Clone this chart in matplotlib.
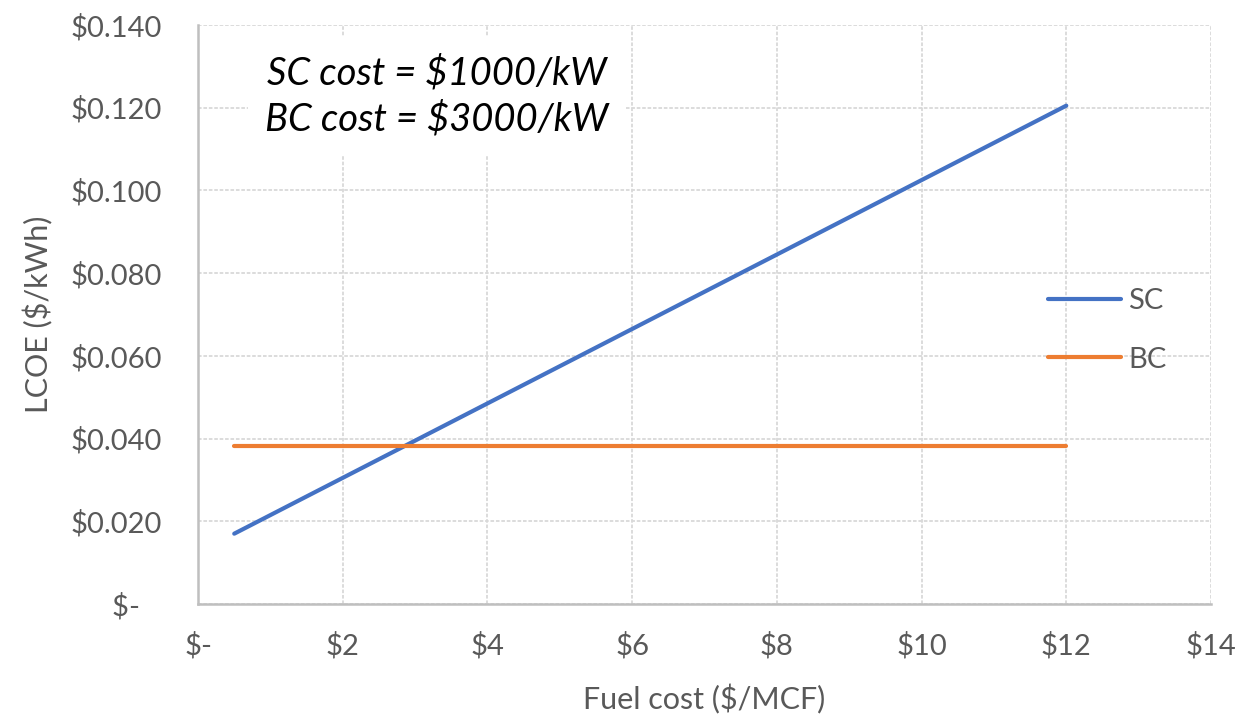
import matplotlib
matplotlib.use("Agg")
import matplotlib.pyplot as plt
from matplotlib.ticker import FuncFormatter, MultipleLocator

# LCOE vs fuel price, simple-cycle vs baseload combined-cycle
fuel_cost = [0.5, 2, 4, 6, 8, 10, 12]
sc_lcoe = [0.0170, 0.0305, 0.0485, 0.0665, 0.0845, 0.1025, 0.1205]
bc_lcoe = [0.0381, 0.0381, 0.0381, 0.0381, 0.0381, 0.0381, 0.0381]
series_names = ["SC", "BC"]
note_lines = ["SC cost = $1000/kW", "BC cost = $3000/kW"]

BLUE = "#4472C4"
ORANGE = "#ED7D31"
TEXT = "#595959"
GRID = "#D9D9D9"
AXIS = "#BFBFBF"

plt.rcParams["font.family"] = ["Lato", "DejaVu Sans"]

fig = plt.figure(figsize=(12.41, 7.21), dpi=100)
ax = fig.add_axes([0.1596, 0.1623, 0.8162, 0.8030])

ax.plot(fuel_cost, sc_lcoe, color=BLUE, lw=3.0, solid_capstyle="round", label=series_names[0], zorder=3)
ax.plot(fuel_cost, bc_lcoe, color=ORANGE, lw=3.0, solid_capstyle="round", label=series_names[1], zorder=3)

ax.set_xlim(0, 14)
ax.set_ylim(0, 0.14)
ax.xaxis.set_major_locator(MultipleLocator(2))
ax.yaxis.set_major_locator(MultipleLocator(0.02))
ax.xaxis.set_major_formatter(FuncFormatter(lambda v, p: "$-" if abs(v) < 1e-9 else f"${v:.0f}"))
ax.yaxis.set_major_formatter(FuncFormatter(lambda v, p: "$-   " if abs(v) < 1e-9 else f"${v:.3f}"))

ax.grid(True, color=GRID, lw=1.3, ls=(0, (2, 1)))
ax.set_axisbelow(True)
for side in ["top", "right"]:
    ax.spines[side].set_visible(False)
for side in ["left", "bottom"]:
    ax.spines[side].set_color(AXIS)
    ax.spines[side].set_linewidth(1.8)
ax.tick_params(length=0, labelsize=21, labelcolor=TEXT)
ax.tick_params(axis="y", pad=26)
ax.tick_params(axis="x", pad=20)

ax.set_xlabel("Fuel cost ($/MCF)", fontsize=22, color=TEXT, labelpad=18)
ax.set_ylabel("LCOE ($/kWh)", fontsize=22, color=TEXT, labelpad=12)

ax.text(0.236, 0.877, "\n".join(note_lines), transform=ax.transAxes,
        fontsize=27.5, style="italic", color="black", ha="center", va="center",
        linespacing=1.35, parse_math=False, zorder=4,
        bbox=dict(facecolor="white", edgecolor="none", boxstyle="square,pad=0.45"))

leg = ax.legend(loc="upper left", bbox_to_anchor=(0.839, 0.545), frameon=False,
                fontsize=21, handlelength=2.5, handletextpad=0.25,
                labelspacing=1.1, borderpad=0, borderaxespad=0)
for t in leg.get_texts():
    t.set_color(TEXT)

fig.savefig("out.png", dpi=100)
